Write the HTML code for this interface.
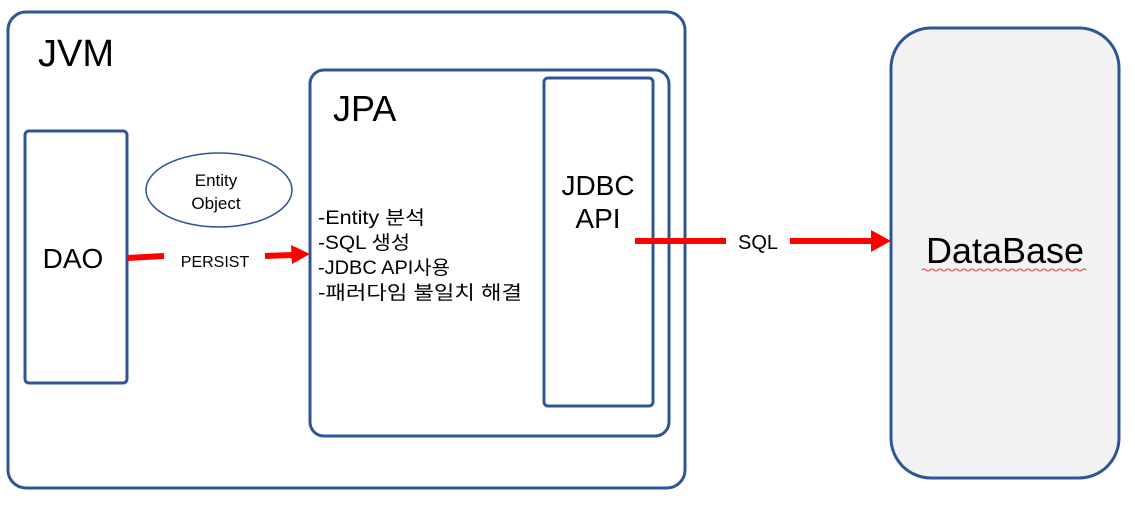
<!DOCTYPE html>
<html><head><meta charset="utf-8"><style>
html,body{margin:0;padding:0;background:#fff;}
svg text{font-family:"Liberation Sans","Noto Sans CJK KR",sans-serif;fill:#000;}
</style></head><body>
<svg width="1135" height="500" viewBox="0 0 1135 500" xmlns="http://www.w3.org/2000/svg">
<rect x="8" y="12" width="677" height="476" rx="18" fill="#fff" stroke="#2f5597" stroke-width="3"/>
<text x="38" y="66" font-size="38">JVM</text>
<rect x="25" y="131" width="102" height="252" rx="4" fill="#fff" stroke="#2f5597" stroke-width="3"/>
<text x="73" y="268" font-size="28" text-anchor="middle">DAO</text>
<ellipse cx="219" cy="190" rx="73" ry="37" fill="#fff" stroke="#2f5597" stroke-width="1.5"/>
<text x="216" y="186" font-size="17" text-anchor="middle">Entity</text>
<text x="216" y="209" font-size="17" text-anchor="middle">Object</text>
<rect x="310" y="70" width="359" height="366" rx="14" fill="#fff" stroke="#2f5597" stroke-width="3"/>
<text x="333" y="121" font-size="36">JPA</text>
<g font-size="19">
<text x="318" y="224" textLength="107" lengthAdjust="spacingAndGlyphs">-Entity 분석</text>
<text x="318" y="249" textLength="92" lengthAdjust="spacingAndGlyphs">-SQL 생성</text>
<text x="318" y="274" textLength="132" lengthAdjust="spacingAndGlyphs">-JDBC API사용</text>
<text x="318" y="299" textLength="204" lengthAdjust="spacingAndGlyphs">-패러다임 불일치 해결</text>
</g>
<rect x="544" y="78" width="109" height="328" rx="4" fill="#fff" stroke="#2f5597" stroke-width="3"/>
<text x="598" y="195" font-size="28" text-anchor="middle">JDBC</text>
<text x="598" y="228" font-size="28" text-anchor="middle">API</text>
<rect x="891" y="28" width="228" height="450" rx="40" fill="#f2f2f2" stroke="#2f5597" stroke-width="3"/>
<text x="1005" y="263" font-size="36" text-anchor="middle">DataBase</text>
<path d="M922 270 q2 -2 4 0 t4 0 t4 0 t4 0 t4 0 t4 0 t4 0 t4 0 t4 0 t4 0 t4 0 t4 0 t4 0 t4 0 t4 0 t4 0 t4 0 t4 0 t4 0 t4 0 t4 0 t4 0 t4 0 t4 0 t4 0 t4 0 t4 0 t4 0 t4 0 t4 0 t4 0 t4 0 t4 0 t4 0 t4 0 t4 0 t4 0 t4 0 t4 0 t4 0 t4 0" fill="none" stroke="#e33" stroke-width="1"/>
<g stroke="#f00" stroke-width="6" fill="none">
<line x1="127" y1="258" x2="164" y2="256"/>
<line x1="265" y1="256" x2="292" y2="255"/>
<line x1="635" y1="241" x2="726" y2="241"/>
<line x1="790" y1="241" x2="873" y2="241"/>
</g>
<polygon points="310,254 291,245 292,264" fill="#f00"/>
<polygon points="891,241 871,230 871,252" fill="#f00"/>
<text x="215" y="267" font-size="16" text-anchor="middle">PERSIST</text>
<text x="758" y="249" font-size="20" text-anchor="middle">SQL</text>
</svg>
</body></html>
